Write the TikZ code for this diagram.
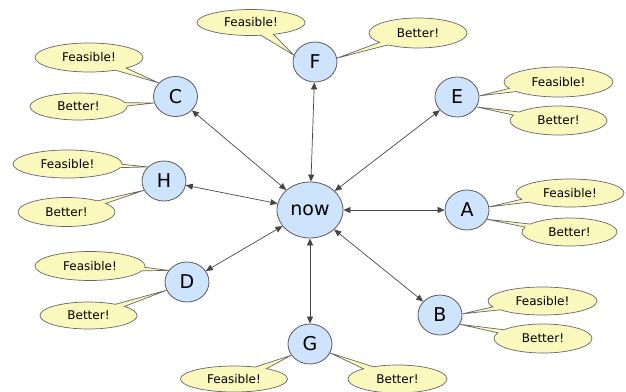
\documentclass[tikz,border=0pt]{standalone}
\usepackage{fontspec}
\setmainfont{DejaVu Sans}
\usetikzlibrary{shapes.geometric,shapes.callouts,arrows.meta}
\definecolor{nodeblue}{RGB}{205,228,252}
\definecolor{bubble}{RGB}{250,248,188}
\definecolor{edgegray}{RGB}{70,70,70}
\tikzset{
  state/.style={ellipse,draw=black!65,line width=0.8pt,fill=nodeblue,inner sep=0pt,
    minimum width=44pt,minimum height=40pt,font=\fontsize{19}{19}\selectfont},
  bub/.style={ellipse callout,draw=black!60,line width=0.7pt,fill=bubble,inner sep=0pt,
    callout pointer arc=14,font=\fontsize{12}{12}\selectfont},
  feas/.style={bub,minimum width=108pt,minimum height=28pt},
  bett/.style={bub,minimum width=97pt,minimum height=28pt},
  link/.style={draw=edgegray,line width=0.7pt,{Triangle[length=7pt,width=6pt]}-{Triangle[length=7pt,width=6pt]}}
}
\begin{document}
\begin{tikzpicture}[x=1pt,y=-1pt]
\useasboundingbox (0,0) rectangle (626,391);
\node[state,minimum width=66pt,minimum height=56pt] (now) at (310,210) {now};
\node[state] (F) at (315,62) {F};
\node[state] (C) at (175.5,96.5) {C};
\node[state] (E) at (457,97) {E};
\node[state] (H) at (164,181) {H};
\node[state] (A) at (467,210) {A};
\node[state] (B) at (440,315) {B};
\node[state] (D) at (187,282) {D};
\node[state] (G) at (310,344) {G};

\foreach \n in {F,C,E,H,A,B,D,G}
  \draw[link] (now) -- (\n);

\node[feas,minimum height=26pt,callout absolute pointer={(F.162)}] (fF) at (251,22.5) {Feasible!};
\node[bett,minimum width=98pt,minimum height=30pt,callout absolute pointer={(F.10)}] (fB) at (418,33) {Better!};
\node[feas,minimum height=29pt,callout absolute pointer={(C.141)}] (cF) at (89,57.5) {Feasible!};
\node[bett,minimum height=27pt,callout absolute pointer={(C.197)}] (cB) at (78.5,106.5) {Better!};
\node[feas,minimum width=109pt,callout absolute pointer={(H.139)}] (hF) at (67.5,164) {Feasible!};
\node[bett,minimum height=29pt,callout absolute pointer={(H.205)}] (hB) at (66.5,212) {Better!};
\node[feas,minimum width=110pt,minimum height=29pt,callout absolute pointer={(D.148)}] (dF) at (90,266) {Feasible!};
\node[bett,minimum height=27pt,callout absolute pointer={(D.202)}] (dB) at (88.5,315.5) {Better!};
\node[feas,minimum width=107pt,minimum height=26pt,callout absolute pointer={(G.211)}] (gF) at (234,379) {Feasible!};
\node[bett,minimum width=99pt,callout absolute pointer={(G.336)}] (gB) at (397.5,379) {Better!};
\node[feas,minimum width=109pt,minimum height=30pt,callout absolute pointer={(E.3)}] (eF) at (558.5,82) {Feasible!};
\node[bett,minimum height=29pt,callout absolute pointer={(E.333)}] (eB) at (558.5,120.5) {Better!};
\node[feas,callout absolute pointer={(A.8)}] (aF) at (570,193) {Feasible!};
\node[bett,minimum width=95pt,callout absolute pointer={(A.335)}] (aB) at (569.5,232) {Better!};
\node[feas,minimum width=109pt,callout absolute pointer={(B.3)}] (bF) at (542.5,301) {Feasible!};
\node[bett,minimum width=98pt,minimum height=29pt,callout absolute pointer={(B.335)}] (bB) at (543,338.5) {Better!};
\end{tikzpicture}
\end{document}
